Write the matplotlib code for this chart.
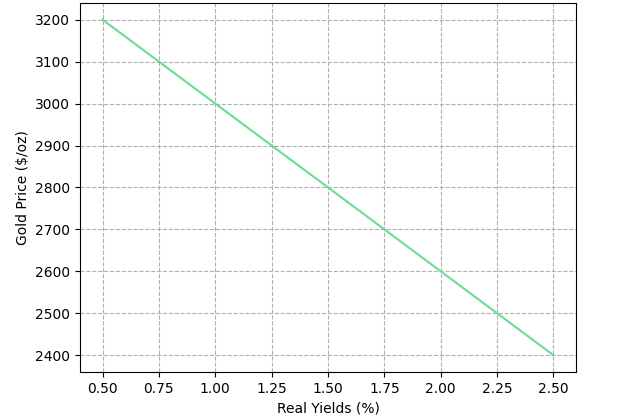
import matplotlib
matplotlib.use("Agg")
import matplotlib.pyplot as plt

real_yields = [0.5, 1.0, 1.5, 2.0, 2.5]                                        # Real yields (%)
gold_price = [3200, 3000, 2800, 2600, 2400]                                    # Gold price ($/oz)

fig, ax = plt.subplots(figsize=(6.4, 4.17), dpi=100)
fig.subplots_adjust(left=0.125, right=0.9, top=0.993, bottom=0.108)

ax.plot(real_yields, gold_price, color="#6bdc94", linewidth=1.5)

ax.set_xlabel("Real Yields (%)")                                               # Name axes
ax.set_ylabel("Gold Price ($/oz)")
ax.grid(True, linestyle="--", color="#b0b0b0")                                 # Display grid

fig.savefig("out.png")
